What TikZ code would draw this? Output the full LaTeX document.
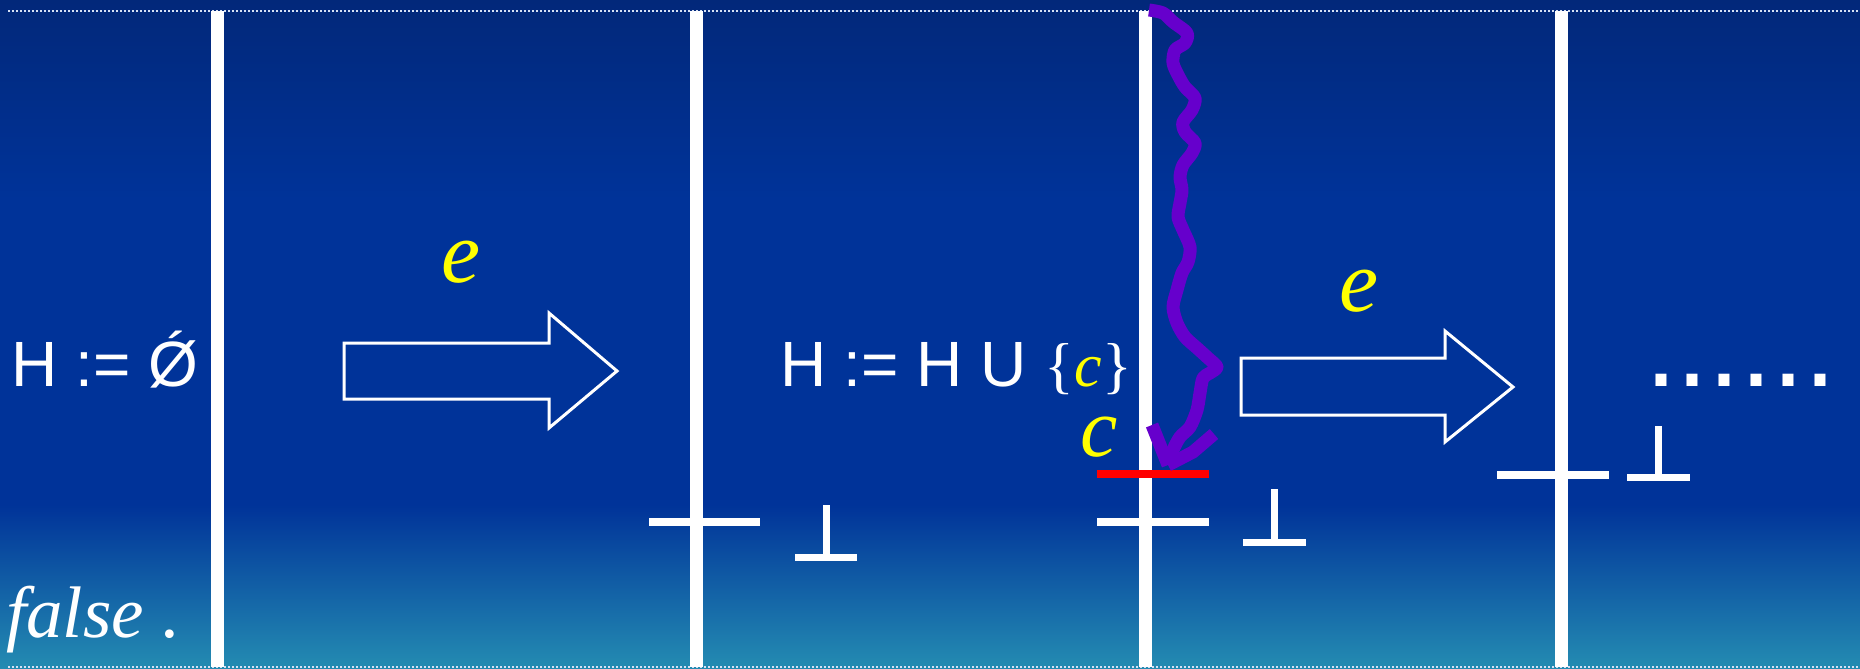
\documentclass[tikz,border=0pt]{standalone}
\usepackage{fontspec}
\setmainfont{Liberation Serif}
\newfontfamily\arialf{Liberation Sans}
\definecolor{bgtop}{RGB}{2,40,122}
\definecolor{bgmid}{RGB}{0,51,153}
\definecolor{bgbot}{RGB}{36,140,178}
\definecolor{wavyc}{RGB}{102,0,204}
\definecolor{yellowc}{RGB}{255,255,0}
\definecolor{redc}{RGB}{255,0,0}
\definecolor{dotc}{RGB}{215,225,245}
\begin{document}
\begin{tikzpicture}[x=1pt,y=-1pt,
  txt/.style={inner sep=0pt,outer sep=0pt,anchor=base west,text=white},
  sans64/.style={txt,font=\arialf\fontsize{64}{64}\selectfont},
  timeline/.style={white,line width=13pt},
  crossbar/.style={white,line width=8pt},
  perp/.style={white,line width=7pt},
  blockarrow/.style={white,line width=3pt,line join=miter},
  wavy/.style={wavyc,line width=13pt,line join=round,line cap=butt},
  dotline/.style={dotc,line width=2pt,dash pattern=on 2pt off 2pt}]
\useasboundingbox (0,0) rectangle (1860,669);
% background
\shade[top color=bgtop,bottom color=bgmid] (0,0) rectangle (1860,200);
\fill[bgmid] (0,199.5) rectangle (1860,505.5);
\shade[top color=bgmid,bottom color=bgbot] (0,505) rectangle (1860,669);
% dotted borders
\coordinate (tl) at (8,11); \coordinate (tr) at (1860,11);
\coordinate (bl) at (8,667); \coordinate (br) at (1860,667);
\draw[dotline] (tl) -- (tr);
\draw[dotline] (bl) -- (br);
% time lines
\foreach \n/\x in {1/217,2/696,3/1145,4/1561}{
  \coordinate (t\n) at (\x,11); \coordinate (b\n) at (\x,667);
  \draw[timeline] (t\n) -- (b\n);
}
% crossbars
\coordinate (c2a) at (649,522); \coordinate (c2b) at (760,522);
\draw[crossbar] (c2a) -- (c2b);
\coordinate (c3a) at (1097,522); \coordinate (c3b) at (1209,522);
\draw[crossbar] (c3a) -- (c3b);
\coordinate (c4a) at (1497,475); \coordinate (c4b) at (1609,475);
\draw[crossbar] (c4a) -- (c4b);
\coordinate (r3a) at (1097,474); \coordinate (r3b) at (1209,474);
\draw[redc,line width=8pt] (r3a) -- (r3b);
% perp symbols
\draw[perp] (826,505) -- (826,557) (795,557) -- (857,557);
\draw[perp] (1274,489) -- (1274,542) (1243,542) -- (1306,542);
\draw[perp] (1658,426) -- (1658,477) (1627,477) -- (1690,477);
% block arrows
\draw[blockarrow] (344,343) -- (549,343) -- (549,313) -- (617,371) -- (549,428) -- (549,399) -- (344,399) -- cycle;
\draw[blockarrow] (1241,358) -- (1445,358) -- (1445,331) -- (1513,387) -- (1445,442) -- (1445,415) -- (1241,415) -- cycle;
% texts
\node[sans64] (h0) at (12,386) {H := Ǿ};
\node[sans64] (h1) at (780,386) {H := H U {\rmfamily\fontsize{62}{62}\selectfont\{\textcolor{yellowc}{\itshape c}\}}};
\node[txt,text=yellowc,font=\itshape\fontsize{84}{84}\selectfont] (cbig) at (1080,456) {c};
\node[txt,text=yellowc,font=\itshape\fontsize{88}{88}\selectfont] (e1) at (441,282) {e};
\node[txt,text=yellowc,font=\itshape\fontsize{88}{88}\selectfont] (e2) at (1339,311) {e};
\node[txt,font=\itshape\fontsize{73}{73}\selectfont] (fl) at (6,637) {false .};
\node[txt,font=\arialf\fontsize{115}{115}\selectfont] (dots) at (1645,386) {......};
% wavy purple arrow
\draw[wavy]
  plot[smooth,tension=0.5] coordinates {
  (1149,10) (1163,13) (1173,22) (1187,33) (1185,43) (1175,50) (1173,63)
  (1178,75) (1185,87) (1195,98) (1192,110) (1183,122) (1185,132)
  (1195,143) (1192,153) (1183,165) (1180,177) (1182,190) (1180,203)
  (1178,217) (1183,230) (1190,247) (1188,262) (1182,273) (1177,290)
  (1173,307) (1177,323) (1185,337) (1197,348) (1208,358) (1217,367)
  (1210,373) (1203,378) (1200,393) (1197,410) (1190,427) (1180,437)
  (1173,450) (1168,465)};
\coordinate (tip) at (1168,465);
\coordinate (armL) at (1152,425);
\coordinate (armR) at (1214,434);
\draw[wavy] (armL) -- (tip);
\draw[wavy] (armR) -- (1193,452) -- (tip);
\end{tikzpicture}
\end{document}
